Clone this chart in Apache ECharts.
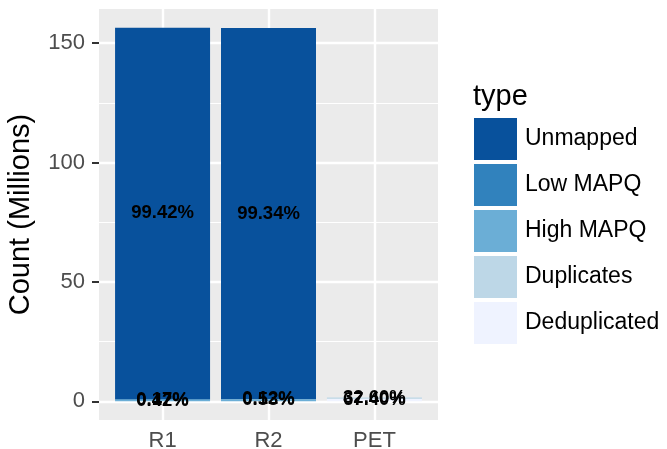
<!DOCTYPE html>
<html><head><meta charset="utf-8">
<script src="https://cdn.jsdelivr.net/npm/echarts@6/dist/echarts.min.js"></script>
<style>html,body{margin:0;padding:0;background:#fff;}#c{width:667px;height:449px;}</style>
</head><body><div id="c"></div>
<script>
const categories = ['R1', 'R2', 'PET'];
const types = ['Unmapped', 'Low MAPQ', 'High MAPQ', 'Duplicates', 'Deduplicated'];
const colors = ['#08519C', '#3182BD', '#6BAED6', '#BDD7E7', '#EFF3FF'];
// values in millions, per category
const unmapped = [155.50, 155.27, null];
const lowMapq = [0.27, 0.19, null];
const highMapq = [0.66, 0.83, null];
const duplicates = [null, null, 0.52];
const deduplicated = [null, null, 1.08];
// percentage labels
const unmappedPct = ['99.42%', '99.34%', ''];
const lowMapqPct = ['0.17%', '0.12%', ''];
const highMapqPct = ['0.42%', '0.53%', ''];
const duplicatesPct = ['', '', '32.60%'];
const deduplicatedPct = ['', '', '67.40%'];
const yTicks = [0, 50, 100, 150];
const yMinor = [25, 75, 125];
const catPos = [1, 2, 3];

const FONT = '"Liberation Sans", Arial, sans-serif';
const valuesByType = [unmapped, lowMapq, highMapq, duplicates, deduplicated];
const pctByType = [unmappedPct, lowMapqPct, highMapqPct, duplicatesPct, deduplicatedPct];

const total = Math.max(...categories.map((c, i) => valuesByType.reduce((s, a) => s + (a[i] || 0), 0)));
const pad = total * 0.05;

// stacking order: last type at bottom
const order = [4, 3, 2, 1, 0];
const series = order.map((t, k) => ({
  name: types[t],
  type: 'bar',
  stack: 'all',
  barWidth: 95,
  itemStyle: { color: colors[t], borderWidth: 0 },
  // value first so the stacked dimension is the y value
  encode: { x: 1, y: 0 },
  data: categories.map((c, i) => [valuesByType[t][i] == null ? '-' : valuesByType[t][i], catPos[i]]),
  label: {
    show: true, position: 'inside', color: '#000', fontWeight: 'bold', fontSize: 18.5, fontFamily: FONT,
    formatter: p => pctByType[t][p.dataIndex]
  },
  z: 2
}));
series[0].markLine = {
  silent: true, symbol: 'none', z: 1, animation: false,
  label: { show: false },
  lineStyle: { color: '#ffffff', type: 'solid', width: 2.4 },
  data: [
    ...yMinor.map(v => ({ yAxis: v, lineStyle: { color: '#ffffff', type: 'solid', width: 1.2 } })),
    ...yTicks.map(v => ({ yAxis: v, lineStyle: { color: '#ffffff', type: 'solid', width: 2.4 } })),
    ...catPos.map(v => ({ xAxis: v, lineStyle: { color: '#ffffff', type: 'solid', width: 2.4 } }))
  ]
};

const chart = echarts.init(document.getElementById('c'), null, { renderer: 'canvas' });
chart.setOption({
  animation: false,
  textStyle: { fontFamily: FONT },
  title: { text: 'type', left: 473, top: 82, padding: 0, textStyle: { fontSize: 29, fontWeight: 'normal', color: '#000', fontFamily: FONT } },
  legend: {
    orient: 'vertical', left: 474, top: 118, padding: 0, itemWidth: 43, itemHeight: 42, itemGap: 4,
    icon: 'rect', data: types, selectedMode: false,
    textStyle: { fontSize: 23, color: '#000', fontFamily: FONT, padding: [0, 0, 0, 3] }
  },
  grid: { left: 99, top: 9, right: 229, bottom: 29, show: true, backgroundColor: '#EBEBEB', borderWidth: 0, outerBoundsMode: 'none', containLabel: false },
  xAxis: {
    type: 'value', min: 0.4, max: 3.6,
    axisLine: { show: false },
    splitLine: { show: false },
    axisTick: { show: true, customValues: catPos, length: 7, lineStyle: { color: '#333', width: 2 } },
    axisLabel: { customValues: catPos, formatter: v => categories[Math.round(v) - 1] || '', color: '#4D4D4D', fontSize: 22, margin: 10, fontFamily: FONT }
  },
  yAxis: {
    type: 'value', min: -pad, max: total + pad,
    name: 'Count (Millions)', nameLocation: 'middle', nameGap: 64,
    nameTextStyle: { fontSize: 29, color: '#000', fontFamily: FONT },
    axisLine: { show: false },
    splitLine: { show: false },
    axisTick: { show: true, customValues: yTicks, length: 7, lineStyle: { color: '#333', width: 2 } },
    axisLabel: { customValues: yTicks, color: '#4D4D4D', fontSize: 22, margin: 14, fontFamily: FONT }
  },
  series: series
});
</script>
</body></html>
